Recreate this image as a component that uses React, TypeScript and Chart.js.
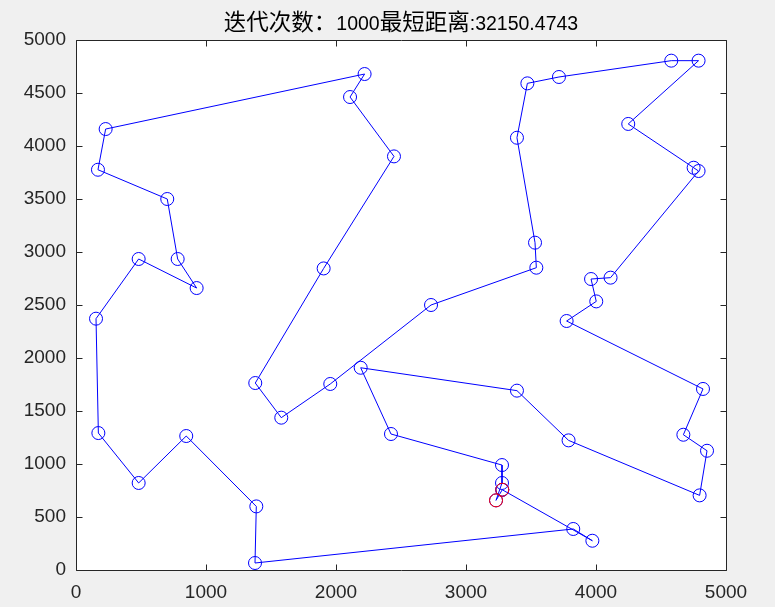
import React, { useEffect, useRef } from "react";
import { Chart, registerables } from "chart.js";

Chart.register(...registerables);

// Route order (x, y) of cities
const routeX = [3279, 3972, 3825, 1377, 1387, 848, 482, 172, 154, 482, 928, 782, 702, 169, 228, 2220, 2108, 2446, 1905, 1379, 1579, 1956, 2731, 3541, 3531, 3392, 3472, 3715, 4579, 4789, 4248, 4751, 4789, 4112, 3962, 4002, 3774, 4823, 4672, 4854, 4797, 3789, 3392, 2190, 2423, 3277, 3277, 3231, 3279];
const routeY = [757, 276, 387, 66, 600, 1264, 821, 1292, 2371, 2934, 2660, 2934, 3500, 3776, 4160, 4679, 4462, 3902, 2845, 1764, 1437, 1755, 2500, 2852, 3088, 4078, 4591, 4651, 4805, 4805, 4208, 3795, 3764, 2758, 2745, 2534, 2349, 1708, 1276, 1125, 704, 1223, 1692, 1908, 1283, 990, 821, 657, 757];

// Red markers (start / end)
const redX = [3279, 3231];
const redY = [757, 657];

const xTicks = [0, 1000, 2000, 3000, 4000, 5000];
const yTicks = [0, 500, 1000, 1500, 2000, 2500, 3000, 3500, 4000, 4500, 5000];

const titleParts: [string, boolean][] = [
  ["迭代次数：", true],
  ["1000", false],
  ["最短距离", true],
  [":32150.4743", false],
];

const AXIS_COLOR = "#262626";
const LATIN = '"Liberation Sans", Arial, sans-serif';
const CJK = '"Noto Sans CJK SC", "Liberation Sans", sans-serif';

export default function App() {
  const ref = useRef<HTMLCanvasElement | null>(null);

  useEffect(() => {
    if (!ref.current) return;
    const decor = {
      id: "decor",
      beforeDraw(chart: any) {
        const { ctx, chartArea: a } = chart;
        ctx.save();
        ctx.fillStyle = "#f0f0f0";
        ctx.fillRect(0, 0, chart.width, chart.height);
        ctx.fillStyle = "#ffffff";
        ctx.fillRect(a.left, a.top, a.right - a.left, a.bottom - a.top);
        ctx.restore();
      },
      afterDraw(chart: any) {
        const { ctx, chartArea: a, scales } = chart;
        ctx.save();
        ctx.strokeStyle = AXIS_COLOR;
        ctx.lineWidth = 1;
        const L = Math.round(a.left) + 0.5;
        const R = Math.round(a.right) + 0.5;
        const T = Math.round(a.top) + 0.5;
        const B = Math.round(a.bottom) + 0.5;
        ctx.beginPath();
        ctx.rect(L, T, R - L, B - T);
        ctx.stroke();
        const tl = 6;
        ctx.beginPath();
        xTicks.forEach((v) => {
          const px = Math.round(scales.x.getPixelForValue(v)) + 0.5;
          ctx.moveTo(px, B);
          ctx.lineTo(px, B - tl);
          ctx.moveTo(px, T);
          ctx.lineTo(px, T + tl);
        });
        yTicks.forEach((v) => {
          const py = Math.round(scales.y.getPixelForValue(v)) + 0.5;
          ctx.moveTo(L, py);
          ctx.lineTo(L + tl, py);
          ctx.moveTo(R, py);
          ctx.lineTo(R - tl, py);
        });
        ctx.stroke();

        // title
        ctx.fillStyle = "#000000";
        ctx.textBaseline = "alphabetic";
        ctx.textAlign = "left";
        const fonts = titleParts.map(([, cjk]) => (cjk ? `22.5px ${CJK}` : `19.5px ${LATIN}`));
        const widths = titleParts.map(([t], i) => {
          ctx.font = fonts[i];
          return ctx.measureText(t).width;
        });
        const total = widths.reduce((s, w) => s + w, 0);
        let x = (a.left + a.right) / 2 - total / 2;
        titleParts.forEach(([t], i) => {
          ctx.font = fonts[i];
          ctx.fillText(t, x, 29.5);
          x += widths[i];
        });
        ctx.restore();
      },
    };

    const chart = new Chart(ref.current, {
      type: "scatter",
      data: {
        datasets: [
          {
            data: redX.map((x, i) => ({ x, y: redY[i] })),
            showLine: false,
            borderColor: "#ff0000",
            backgroundColor: "rgba(0,0,0,0)",
            pointBorderColor: "#ff0000",
            pointBackgroundColor: "rgba(0,0,0,0)",
            pointRadius: 6.5,
            pointBorderWidth: 1,
            order: 0,
          },
          {
            data: routeX.map((x, i) => ({ x, y: routeY[i] })),
            showLine: true,
            borderColor: "#0000ff",
            borderWidth: 1,
            backgroundColor: "rgba(0,0,0,0)",
            pointBorderColor: "#0000ff",
            pointBackgroundColor: "rgba(0,0,0,0)",
            pointRadius: 6.5,
            pointBorderWidth: 1,
            tension: 0,
            order: 1,
          },
        ],
      },
      options: {
        animation: false,
        responsive: false,
        events: [],
        layout: { padding: { top: 40, right: 49, left: 0, bottom: 0 } },
        plugins: {
          legend: { display: false },
          tooltip: { enabled: false },
          title: { display: false },
        },
        scales: {
          x: {
            type: "linear",
            min: 0,
            max: 5000,
            afterBuildTicks: (s: any) => {
              s.ticks = xTicks.map((v) => ({ value: v }));
            },
            afterFit: (s: any) => {
              s.height = 37;
            },
            grid: { display: false, drawTicks: false },
            border: { display: false },
            ticks: {
              color: AXIS_COLOR,
              font: { family: LATIN, size: 19 },
              padding: 11,
              maxRotation: 0,
              autoSkip: false,
              callback: (v: any) => String(v),
            },
          },
          y: {
            type: "linear",
            min: 0,
            max: 5000,
            afterBuildTicks: (s: any) => {
              s.ticks = yTicks.map((v) => ({ value: v }));
            },
            afterFit: (s: any) => {
              s.width = 76;
            },
            grid: { display: false, drawTicks: false },
            border: { display: false },
            ticks: {
              color: AXIS_COLOR,
              font: { family: LATIN, size: 19 },
              padding: 10,
              autoSkip: false,
              callback: (v: any) => String(v),
            },
          },
        },
      },
      plugins: [decor],
    });
    return () => chart.destroy();
  }, []);

  return (
    <div style={{ position: "fixed", left: 0, top: 0, width: 775, height: 607, background: "#f0f0f0" }}>
      <canvas ref={ref} width={775} height={607} style={{ display: "block" }} />
    </div>
  );
}
